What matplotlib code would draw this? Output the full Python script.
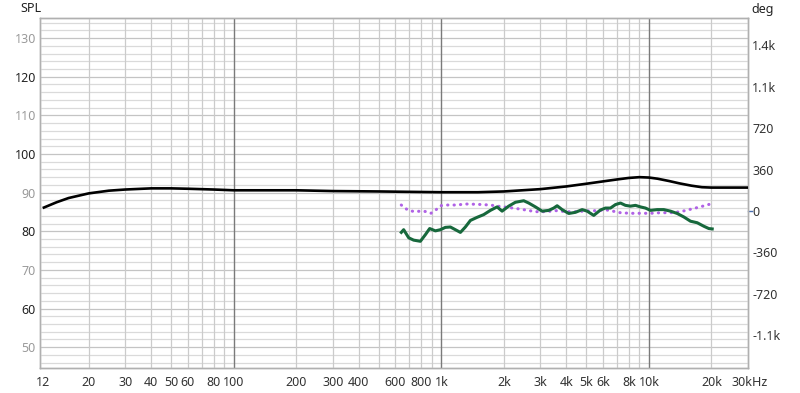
import numpy as np
import matplotlib
matplotlib.use("Agg")
import matplotlib.pyplot as plt
from matplotlib.ticker import FixedLocator, NullFormatter, NullLocator
import matplotlib.transforms as mtransforms

plt.rcParams['font.family'] = ['Noto Sans', 'DejaVu Sans']

# Black SPL curve
spl_freq = [12, 14, 16, 20, 25, 30, 40, 50, 60, 80, 100, 150, 200, 300, 500, 700,
            1000, 1500, 2000, 3000, 4000, 5000, 6000, 7000, 8000, 9000, 10000,
            11000, 12500, 14000, 16000, 18000, 20000, 25000, 30000]
spl_vals = [86.0, 87.5, 88.6, 89.8, 90.5, 90.8, 91.1, 91.1, 91.0, 90.8, 90.6, 90.6, 90.6, 90.4, 90.3, 90.2,
            90.1, 90.1, 90.3, 90.9, 91.6, 92.3, 92.9, 93.4, 93.8, 94.0, 93.9,
            93.6, 93.0, 92.4, 91.8, 91.4, 91.3, 91.3, 91.3]

# Green curve (SPL)
green_freq = [641, 658, 696, 735, 792, 837, 878, 936, 989, 1045, 1105, 1168, 1235, 1305, 1380,
              1486, 1599, 1722, 1855, 1961, 2110, 2273, 2493, 2635, 2838, 3058, 3289, 3477,
              3611, 3817, 4107, 4424, 4766, 5038, 5420, 5838, 6171, 6524, 6897, 7291, 7703,
              8143, 8610, 9100, 9620, 10170, 10950, 11790, 12700, 13680, 14720, 15850,
              17080, 18370, 19420, 20170]
green_vals = [79.7, 80.4, 78.3, 77.7, 77.4, 79.1, 80.7, 80.1, 80.4, 81.0, 81.1, 80.4, 79.7, 81.1, 82.8,
              83.6, 84.3, 85.4, 86.3, 85.2, 86.5, 87.5, 87.9, 87.3, 86.3, 85.2, 85.4, 86.0,
              86.6, 85.6, 84.6, 84.9, 85.6, 85.2, 84.1, 85.5, 86.0, 86.0, 86.9, 87.3, 86.7,
              86.5, 86.7, 86.3, 86.0, 85.4, 85.6, 85.6, 85.2, 84.6, 83.7, 82.6,
              82.2, 81.3, 80.7, 80.6]

# Purple dotted curve (deg)
phase_freq = [641, 670, 700, 750, 800, 850, 890, 940, 990, 1060, 1190, 1300, 1490, 1720, 1850,
              2010, 2270, 2540, 2840, 3180, 3560, 3980, 4450, 4980, 5570, 6230, 6520, 7290,
              8140, 9100, 10170, 11370, 12720, 14200, 15850, 17730, 19810]
phase_vals = [52, 23, 3, -6, 0, -6, -20, 9, 46, 52, 52, 61, 58, 52, 43,
              35, 23, 9, -6, -6, 3, -6, -6, 0, 3, 9, 3, -15,
              -20, -20, -20, -15, -15, -6, 15, 37, 61]

x_ticks = [12, 20, 30, 40, 50, 60, 80, 100, 200, 300, 400, 600, 800, 1000, 2000,
           3000, 4000, 5000, 6000, 8000, 10000, 20000, 30000]
x_labels = ['12', '20', '30', '40', '50', '60', '80', '100', '200', '300', '400', '600',
            '800', '1k', '2k', '3k', '4k', '5k', '6k', '8k', '10k', '20k', '30kHz']
y_ticks = [50, 60, 70, 80, 90, 100, 110, 120, 130]
deg_ticks = [-1080, -720, -360, 0, 360, 720, 1080, 1440]
deg_labels = ['-1.1k', '-720', '-360', '0', '360', '720', '1.1k', '1.4k']

fig = plt.figure(figsize=(8, 3.93), dpi=100)
ax = fig.add_axes([40/800, 1-368/393, 708/800, 350/393])
ax2 = ax.twinx()
ax.set_zorder(ax2.get_zorder() + 1)
ax.patch.set_visible(False)
ax2.patch.set_facecolor('white')

ax.set_xscale('log')
ax.set_xlim(11.65, 30000)
ax.set_ylim(44.6, 135.2)
ax2.set_ylim(-1365, 1678)

# grid
minor_x = []
for dec in [10, 100, 1000, 10000]:
    for m in range(2, 10):
        v = dec * m
        if 11.65 < v < 30000:
            minor_x.append(v)
for v in minor_x:
    ax.axvline(v, color='#cbcbcb', lw=0.9, zorder=0.5)
for v in [100, 1000, 10000]:
    ax.axvline(v, color='#7a7a7a', lw=1.0, zorder=0.6)
for v in np.arange(46, 135, 2):
    col = '#c4c4c4' if v % 10 == 0 else '#dadada'
    ax.axhline(v, color=col, lw=0.9, zorder=0.4)

ax.plot(spl_freq, spl_vals, color='black', lw=1.9, zorder=3, solid_capstyle='butt')
ax.plot(phase_freq, phase_vals, color='#b062e6', lw=2.2, ls=(0, (0.1, 2.0)),
        dash_capstyle='round', transform=ax2.transData, zorder=2)
ax.plot(green_freq, green_vals, color='#17683c', lw=2.2, zorder=2.5, solid_joinstyle='round')

# ticks
ax.xaxis.set_major_locator(FixedLocator(x_ticks))
ax.set_xticklabels(x_labels)
ax.xaxis.set_minor_locator(NullLocator())
ax.xaxis.set_minor_formatter(NullFormatter())
ax.tick_params(axis='x', length=0, pad=6, labelsize=9, labelcolor='#333333')
ax.set_yticks(y_ticks)
ax.set_yticklabels([str(v) for v in y_ticks])
ax.tick_params(axis='y', length=0, pad=3, labelsize=9)
for lab, v in zip(ax.get_yticklabels(), y_ticks):
    lab.set_color('#222222' if v % 20 == 0 else '#9a9a9a')

ax2.set_yticks(deg_ticks)
ax2.set_yticklabels(deg_labels)
ax2.tick_params(axis='y', length=0, pad=3, labelsize=9, labelcolor='#333333')
ax2.plot([1.0, 1.006], [0, 0], transform=mtransforms.blended_transform_factory(ax2.transAxes, ax2.transData),
         color='#4a6fb0', lw=1, clip_on=False)

# shift last x label
lbl = ax.get_xticklabels()[-1]
lbl.set_horizontalalignment('left')
lbl.set_transform(lbl.get_transform() + mtransforms.ScaledTranslation(-16/100, 0, fig.dpi_scale_trans))

for a in (ax, ax2):
    for s in a.spines.values():
        s.set_color('#b0b0b0')
        s.set_linewidth(1)

fig.text(20/800, 1-9/393, 'SPL', fontsize=9, color='#222222', va='center', ha='left')
fig.text(751/800, 1-9/393, 'deg', fontsize=9, color='#222222', va='center', ha='left')

fig.savefig('out.png', dpi=100)
